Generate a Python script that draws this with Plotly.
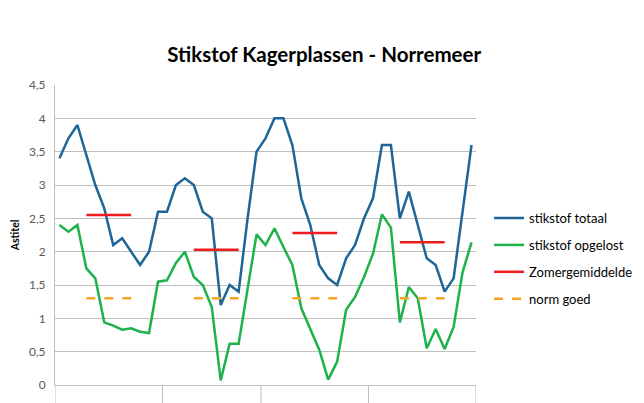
import plotly.graph_objects as go

# maanden per jaar (categorie-as), jaar 2 mist een maand
months_y1 = [1, 2, 3, 4, 5, 6, 7, 8, 9, 10, 11, 12]
months_y2 = [1, 2, 3, 4, 5, 6, 7, 8, 9, 10, 12]
months_y3 = [1, 2, 3, 4, 5, 6, 7, 8, 9, 10, 11, 12]
months_y4 = [1, 2, 3, 4, 5, 6, 7, 8, 9, 10, 11, 12]
year_months = [months_y1, months_y2, months_y3, months_y4]

stikstof_totaal = [
    3.4, 3.7, 3.9, 3.45, 3.0, 2.65, 2.1, 2.2, 2.0, 1.8, 2.0, 2.6,
    2.6, 3.0, 3.1, 3.0, 2.6, 2.5, 1.2, 1.5, 1.4, 2.5, 3.5,
    3.7, 4.0, 4.0, 3.6, 2.8, 2.4, 1.8, 1.6, 1.5, 1.9, 2.1, 2.5,
    2.8, 3.6, 3.6, 2.5, 2.9, 2.4, 1.9, 1.8, 1.4, 1.6, 2.6, 3.6,
]
stikstof_opgelost = [
    2.4, 2.3, 2.4, 1.75, 1.6, 0.94, 0.89, 0.83, 0.85, 0.8, 0.78, 1.55,
    1.57, 1.83, 2.0, 1.62, 1.5, 1.17, 0.07, 0.62, 0.62, 1.45, 2.26,
    2.1, 2.35, 2.07, 1.8, 1.15, 0.83, 0.53, 0.08, 0.35, 1.13, 1.32, 1.62,
    1.97, 2.56, 2.36, 0.94, 1.47, 1.3, 0.55, 0.84, 0.54, 0.87, 1.69, 2.14,
]
zomergemiddelde = [2.55, 2.03, 2.28, 2.14]
norm_goed = 1.3
zomer_maanden = [4, 5, 6, 7, 8, 9]

# categorie-index voor elk punt
months = [m for ym in year_months for m in ym]
xs = list(range(len(months)))

# zomer-segmenten per jaar
zomer_x, zomer_y, norm_x, norm_y = [], [], [], []
idx = 0
bounds = [-0.5]
for j, ym in enumerate(year_months):
    for m in ym:
        if m in zomer_maanden:
            zomer_x.append(idx); zomer_y.append(zomergemiddelde[j])
            norm_x.append(idx); norm_y.append(norm_goed)
        idx += 1
    zomer_x.append(None); zomer_y.append(None)
    norm_x.append(None); norm_y.append(None)
    bounds.append(idx - 0.5)

fig = go.Figure()
fig.add_trace(go.Scatter(x=xs, y=stikstof_totaal, mode='lines', name='stikstof totaal',
                         legendgroup='a', line=dict(color='#1f6596', width=2.5)))
fig.add_trace(go.Scatter(x=xs, y=stikstof_opgelost, mode='lines', name='stikstof opgelost',
                         legendgroup='b', line=dict(color='#1db34a', width=2.5)))
fig.add_trace(go.Scatter(x=zomer_x, y=zomer_y, mode='lines', name='Zomergemiddelde',
                         legendgroup='c', line=dict(color='#ee1c1c', width=2.5)))
fig.add_trace(go.Scatter(x=norm_x, y=norm_y, mode='lines', name='norm goed',
                         legendgroup='d', line=dict(color='#f5a623', width=2.5, dash='dash')))

# scheidingslijnen tussen de jaren onder de as
for b in bounds:
    fig.add_shape(type='line', xref='x', yref='paper', x0=b, x1=b, y0=0, y1=-0.1,
                  line=dict(color='#bfbfbf', width=1))

fig.update_layout(
    width=644, height=403,
    margin=dict(l=47, r=176, t=77, b=26),
    paper_bgcolor='white', plot_bgcolor='white',
    separators=',.',
    font=dict(family='Lato, Carlito, Calibri, sans-serif', color='#595959'),
    title=dict(text='<b>Stikstof Kagerplassen - Norremeer</b>', x=0.491, xref='container',
               xanchor='center', y=0.885, yanchor='middle',
               font=dict(size=20.5, color='#000000')),
    xaxis=dict(range=[-0.5, len(months) - 0.5], tickvals=xs[::2],
               ticktext=[str(m) for m in months[::2]], showgrid=False,
               showline=True, linecolor='#bfbfbf', ticks='', zeroline=False,
               tickfont=dict(size=12), automargin=False, ticklabelstandoff=11),
    yaxis=dict(range=[0, 4.5], dtick=0.5, showgrid=True, gridcolor='#bfbfbf',
               showline=True, linecolor='#bfbfbf', zeroline=False, ticks='',
               tickfont=dict(size=12), automargin=False, ticklabelstandoff=6,
               title=dict(text='<b>Astitel</b>', font=dict(size=10.5, color='#000000'),
                          standoff=7)),
    legend=dict(x=0.747, xref='container', xanchor='left',
                y=0.516, yref='container', yanchor='top',
                font=dict(size=13, color='#000000'), tracegroupgap=7,
                bgcolor='rgba(0,0,0,0)'),
    showlegend=True,
)

fig.write_html("out.html")
